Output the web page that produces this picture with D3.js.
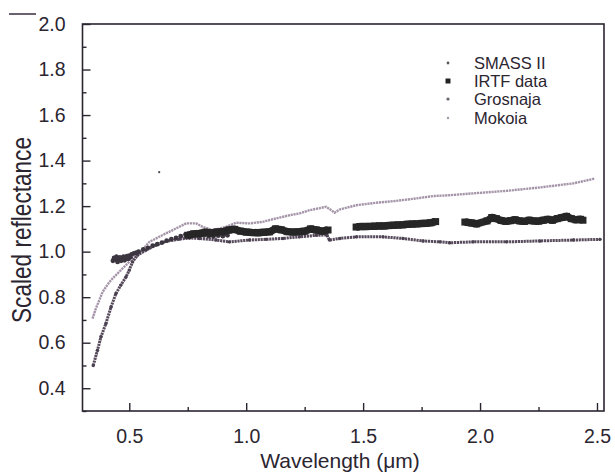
<!DOCTYPE html>
<html>
<head>
<meta charset="utf-8">
<script src="https://cdn.jsdelivr.net/npm/d3@7"></script>
<style>
  html, body { margin: 0; padding: 0; background: #fff; }
  svg { display: block; font-family: "Liberation Sans", Arial, sans-serif; }
</style>
</head>
<body>
<svg id="chart" width="615" height="473"></svg>
<script>
// ---------------- data ----------------
const seriesNames = ["SMASS II", "IRTF data", "Grosnaja", "Mokoia"];

const xTicks = [0.5, 1.0, 1.5, 2.0, 2.5];
const xMinorTicks = [0.75, 1.25, 1.75, 2.25];
const yTicks = [0.4, 0.6, 0.8, 1.0, 1.2, 1.4, 1.6, 1.8, 2.0];
const yMinorTicks = [0.3, 0.5, 0.7, 0.9, 1.1, 1.3, 1.5, 1.7, 1.9];

// SMASS II visible spectrum (wavelength um, scaled reflectance)
const smassWave = [0.430, 0.435, 0.440, 0.445, 0.450, 0.455, 0.460, 0.465, 0.470, 0.475, 0.480, 0.485, 0.490, 0.495, 0.500, 0.505, 0.510, 0.520, 0.530, 0.540, 0.560, 0.580, 0.600, 0.620, 0.640, 0.660, 0.680, 0.700, 0.720, 0.740, 0.760, 0.780, 0.800, 0.820, 0.840, 0.860, 0.880, 0.900, 0.920];
const smassRefl = [0.960, 0.972, 0.965, 0.978, 0.955, 0.968, 0.975, 0.960, 0.966, 0.978, 0.962, 0.972, 0.980, 0.968, 0.982, 0.975, 0.988, 0.992, 0.996, 1.000, 1.010, 1.017, 1.026, 1.033, 1.040, 1.048, 1.055, 1.060, 1.068, 1.075, 1.078, 1.074, 1.070, 1.072, 1.068, 1.066, 1.070, 1.068, 1.072];
// isolated point near the top-left of the data area
const strayWave = [0.628];
const strayRefl = [1.349];

// IRTF near-IR data (three windows separated by telluric gaps)
const irtfWave = [0.750, 0.775, 0.800, 0.825, 0.850, 0.875, 0.900, 0.925, 0.950, 0.975, 1.000, 1.025, 1.050, 1.075, 1.100, 1.125, 1.150, 1.175, 1.200, 1.225, 1.250, 1.275, 1.300, 1.325, 1.350,
  1.470, 1.490, 1.510, 1.530, 1.550, 1.570, 1.590, 1.610, 1.630, 1.650, 1.670, 1.690, 1.710, 1.730, 1.750, 1.770, 1.790, 1.810,
  1.935, 1.950, 1.965, 1.985, 2.030, 2.050, 2.070, 2.090, 2.110, 2.130, 2.150, 2.170, 2.190, 2.210, 2.230, 2.250, 2.270, 2.290, 2.310, 2.330, 2.350, 2.370, 2.390, 2.410, 2.430, 2.440];
const irtfRefl = [1.072, 1.078, 1.080, 1.085, 1.082, 1.086, 1.088, 1.095, 1.098, 1.090, 1.086, 1.084, 1.083, 1.085, 1.087, 1.100, 1.096, 1.088, 1.086, 1.087, 1.090, 1.100, 1.095, 1.090, 1.095,
  1.108, 1.110, 1.110, 1.111, 1.112, 1.113, 1.113, 1.115, 1.116, 1.117, 1.118, 1.120, 1.121, 1.122, 1.124, 1.125, 1.127, 1.132,
  1.130, 1.128, 1.126, 1.122, 1.135, 1.150, 1.145, 1.137, 1.133, 1.136, 1.140, 1.135, 1.133, 1.138, 1.135, 1.134, 1.138, 1.142, 1.138, 1.145, 1.150, 1.155, 1.145, 1.140, 1.142, 1.138];

// Grosnaja meteorite spectrum
const grosWave = [0.346, 0.364, 0.379, 0.400, 0.422, 0.443, 0.464, 0.486, 0.500, 0.514, 0.536, 0.572, 0.614, 0.657, 0.714, 0.757, 0.800, 0.871, 0.928, 1.014, 1.085, 1.157, 1.228, 1.300, 1.345, 1.356, 1.400, 1.471, 1.585, 1.671, 1.756, 1.828, 1.870, 1.970, 2.113, 2.256, 2.399, 2.513];
const grosRefl = [0.500, 0.567, 0.626, 0.684, 0.757, 0.816, 0.853, 0.889, 0.919, 0.955, 0.985, 1.007, 1.029, 1.045, 1.055, 1.060, 1.058, 1.051, 1.043, 1.051, 1.054, 1.058, 1.065, 1.072, 1.073, 1.051, 1.058, 1.065, 1.065, 1.058, 1.047, 1.043, 1.039, 1.043, 1.043, 1.047, 1.051, 1.054];

// Mokoia meteorite spectrum
const mokWave = [0.343, 0.357, 0.372, 0.386, 0.400, 0.422, 0.443, 0.464, 0.486, 0.514, 0.543, 0.586, 0.643, 0.700, 0.743, 0.786, 0.814, 0.857, 0.914, 0.957, 1.014, 1.071, 1.128, 1.185, 1.228, 1.271, 1.342, 1.364, 1.378, 1.399, 1.471, 1.557, 1.642, 1.728, 1.799, 1.870, 1.970, 2.113, 2.256, 2.399, 2.491];
const mokRefl = [0.706, 0.750, 0.787, 0.823, 0.845, 0.875, 0.897, 0.919, 0.941, 0.970, 0.992, 1.043, 1.073, 1.102, 1.124, 1.124, 1.109, 1.094, 1.109, 1.127, 1.124, 1.131, 1.146, 1.160, 1.168, 1.182, 1.197, 1.182, 1.171, 1.185, 1.204, 1.215, 1.223, 1.234, 1.244, 1.248, 1.256, 1.267, 1.282, 1.300, 1.321];

// ---------------- chart ----------------
(function () {
const svg = d3.select("#chart");
const mLeft = 82.5, mRight = 604, mTop = 24, mBottom = 411;
const ink = "#2b2530";

const x = d3.scaleLinear().domain([0.3, 2.53]).range([mLeft, mRight]);
const y = d3.scaleLinear().domain([0.3, 2.0]).range([mBottom, mTop]);

const zip = (a, b) => a.map((v, i) => ({ x: v, y: b[i] }));
const smass = zip(smassWave, smassRefl);
const stray = zip(strayWave, strayRefl);
const irtf = zip(irtfWave, irtfRefl);
const gros = zip(grosWave, grosRefl);
const mok = zip(mokWave, mokRefl);

function segments(data, gap) {
  const out = []; let cur = [];
  data.forEach((d, i) => {
    if (i > 0 && d.x - data[i - 1].x > gap) { out.push(cur); cur = []; }
    cur.push(d);
  });
  if (cur.length) out.push(cur);
  return out;
}

const line = d3.line().x(d => x(d.x)).y(d => y(d.y));
const plot = svg.append("g");

// Mokoia
plot.append("path").datum(mok).attr("d", line)
  .attr("fill", "none").attr("stroke", "#a595a9").attr("stroke-width", 2.4)
  .attr("stroke-dasharray", "2.2 0.7");
// Grosnaja
plot.append("path").datum(gros).attr("d", line)
  .attr("fill", "none").attr("stroke", "#574b5c").attr("stroke-width", 3)
  .attr("stroke-dasharray", "2.2 0.7");
plot.selectAll("circle.gros").data(gros).enter().append("circle")
  .attr("cx", d => x(d.x)).attr("cy", d => y(d.y)).attr("r", 1.7).attr("fill", "#4a4050");

// SMASS II
plot.selectAll("circle.smass").data(smass).enter().append("circle")
  .attr("cx", d => x(d.x)).attr("cy", d => y(d.y)).attr("r", 2.4).attr("fill", "#3c3640");
plot.selectAll("circle.stray").data(stray).enter().append("circle")
  .attr("cx", d => x(d.x)).attr("cy", d => y(d.y)).attr("r", 1.1).attr("fill", "#4a4450");

// IRTF
segments(irtf, 0.05).forEach(seg => {
  plot.append("path").datum(seg).attr("d", line)
    .attr("fill", "none").attr("stroke", "#2a2a2a").attr("stroke-width", 7.5)
    .attr("stroke-linejoin", "round");
});
plot.selectAll("rect.irtf").data(irtf).enter().append("rect")
  .attr("x", d => x(d.x) - 3.5).attr("y", d => y(d.y) - 3.5)
  .attr("width", 7).attr("height", 7).attr("fill", "#262626");

// frame
svg.append("rect").attr("x", mLeft).attr("y", mTop)
  .attr("width", mRight - mLeft).attr("height", mBottom - mTop)
  .attr("fill", "none").attr("stroke", ink).attr("stroke-width", 1.6);

// axes (ticks inward)
const xAxis = d3.axisBottom(x).tickValues(xTicks).tickFormat(d3.format(".1f"))
  .tickSizeInner(-8).tickSizeOuter(0).tickPadding(18);
const gx = svg.append("g").attr("transform", `translate(0,${mBottom})`).call(xAxis);
gx.select(".domain").remove();
gx.selectAll("line").attr("stroke", ink).attr("stroke-width", 1.4);
gx.selectAll("text").attr("font-size", 19.5).attr("fill", ink);

const xMinor = d3.axisBottom(x).tickValues(xMinorTicks).tickSize(-4).tickFormat("");
const gxm = svg.append("g").attr("transform", `translate(0,${mBottom})`).call(xMinor);
gxm.select(".domain").remove();
gxm.selectAll("line").attr("stroke", ink).attr("stroke-width", 1.4);

const yAxis = d3.axisLeft(y).tickValues(yTicks).tickFormat(d3.format(".1f"))
  .tickSizeInner(-8).tickSizeOuter(0).tickPadding(17);
const gy = svg.append("g").attr("transform", `translate(${mLeft},0)`).call(yAxis);
gy.select(".domain").remove();
gy.selectAll("line").attr("stroke", ink).attr("stroke-width", 1.4);
gy.selectAll("text").attr("font-size", 19.5).attr("fill", ink);

const yMinor = d3.axisLeft(y).tickValues(yMinorTicks).tickSize(-4).tickFormat("");
const gym = svg.append("g").attr("transform", `translate(${mLeft},0)`).call(yMinor);
gym.select(".domain").remove();
gym.selectAll("line").attr("stroke", ink).attr("stroke-width", 1.4);

// axis titles
svg.append("text").attr("x", 340).attr("y", 468).attr("text-anchor", "middle")
  .attr("font-size", 21).attr("fill", ink).text("Wavelength (\u03bcm)");
svg.append("text").attr("transform", "translate(31,230) rotate(-90)")
  .attr("text-anchor", "middle").attr("font-size", 27).attr("fill", ink)
  .attr("textLength", 186).attr("lengthAdjust", "spacingAndGlyphs")
  .text("Scaled reflectance");

// short mark at the top-left corner
svg.append("line").attr("x1", 9).attr("x2", 36).attr("y1", 14).attr("y2", 14)
  .attr("stroke", "#3a2c42").attr("stroke-width", 1.5);

// legend
const legendY = [63, 81, 99, 118];
const lg = svg.append("g");
seriesNames.forEach((name, i) => {
  const cy = legendY[i];
  if (i === 1) {
    lg.append("rect").attr("x", 445.5).attr("y", cy - 2.5).attr("width", 5).attr("height", 5).attr("fill", "#222");
  } else {
    const fill = i === 0 ? "#5a5560" : i === 2 ? "#6a6070" : "#a696aa";
    const r = i === 0 ? 1.4 : i === 2 ? 1.6 : 1.2;
    lg.append("circle").attr("cx", 448).attr("cy", cy).attr("r", r).attr("fill", fill);
  }
  lg.append("text").attr("x", 474).attr("y", cy + 6).attr("font-size", 16.5)
    .attr("fill", ink).text(name);
});
})();
</script>
</body>
</html>
